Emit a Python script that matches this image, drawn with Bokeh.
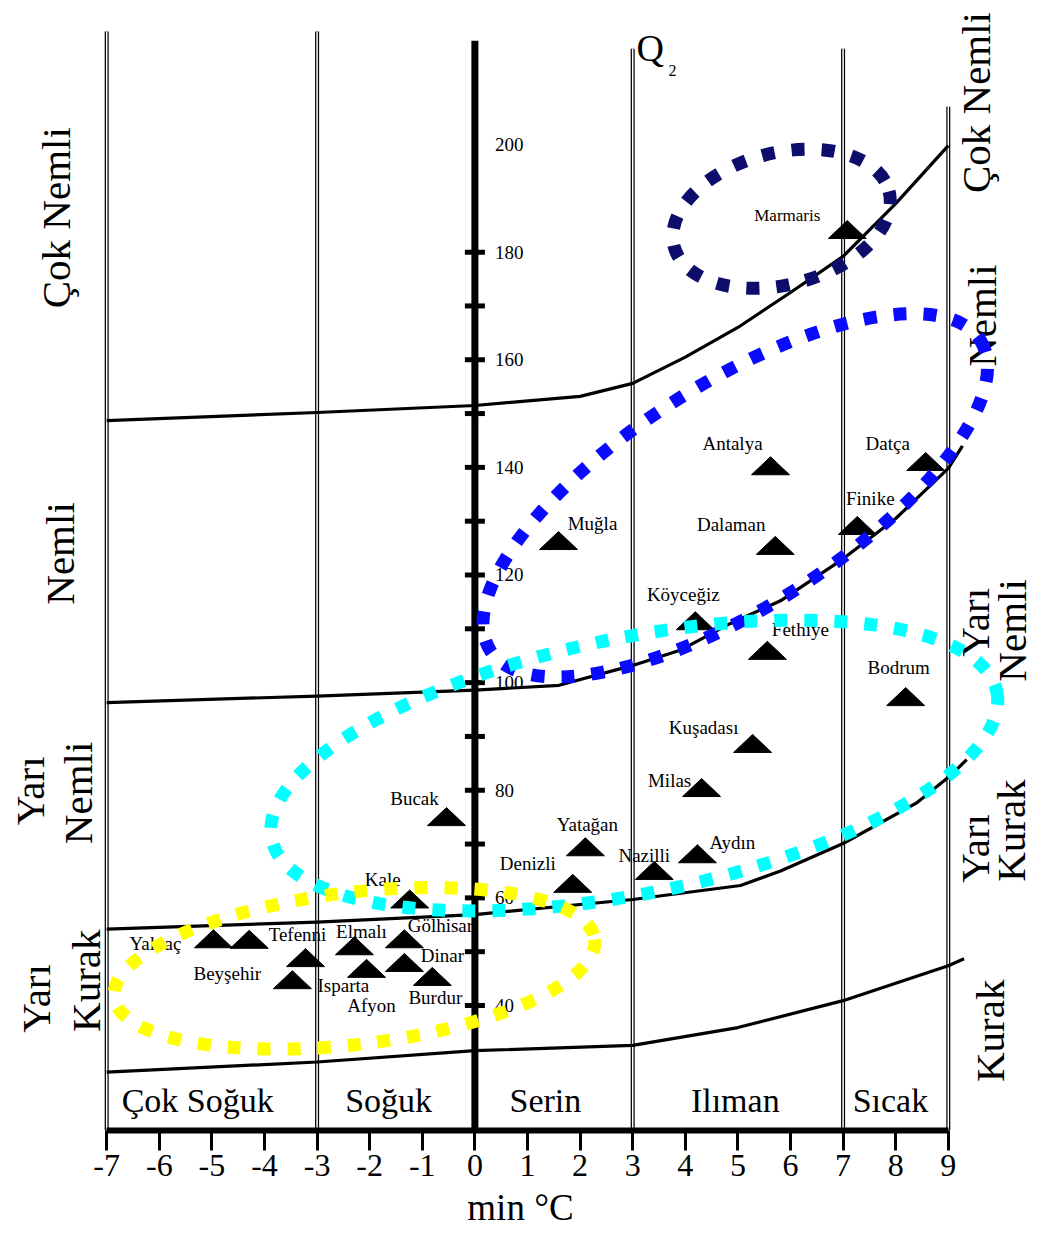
import numpy as np
from bokeh.plotting import figure
from bokeh.models import Range1d, FixedTicker, ColumnDataSource, CustomJSTickFormatter
from bokeh.embed import file_html
from bokeh.resources import INLINE
from bokeh.core.properties import value

# ---------------- data ----------------
# Emberger boundary curves (min °C vs Q2)
humid_x = [-7, -3, 0, 2, 3, 4, 5, 6, 7, 8, 9]
humid_q = [148.7, 150.2, 151.5, 153.2, 155.6, 160.5, 166.0, 172.5, 179.2, 189.0, 199.8]
subhumid_x = [-7, -3, 0, 1.6, 3, 3.9, 4.86, 5.81, 7, 8, 9, 9.27]
subhumid_q = [96.3, 97.5, 98.6, 99.5, 103.2, 106.0, 111.0, 115.2, 123.0, 130.5, 139.8, 144.0]
semiarid_x = [-7, -3, 0, 3, 5.05, 5.81, 7, 8.39, 9.06, 9.35]
semiarid_q = [54.2, 55.5, 56.9, 59.7, 62.3, 65.0, 70.1, 77.6, 82.9, 85.7]
arid_x = [-7, -3, 0, 3, 5, 7, 9, 9.3]
arid_q = [27.6, 29.5, 31.6, 32.6, 35.9, 40.9, 47.4, 48.7]

# stations
stations = ["Marmaris", "Antalya", "Datça", "Finike", "Dalaman", "Muğla", "Köyceğiz",
            "Fethiye", "Bodrum", "Kuşadası", "Milas", "Bucak", "Yatağan", "Aydın",
            "Nazilli", "Denizli", "Kale", "Yalvaç", "Beyşehir", "Tefenni", "Isparta",
            "Elmalı", "Gölhisar", "Dinar", "Afyon", "Burdur"]
station_m = [7.08, 5.62, 8.57, 7.27, 5.71, 1.59, 4.19, 5.56, 8.19, 5.28, 4.31, -0.54, 2.10,
             4.23, 3.41, 1.86, -1.24, -4.97, -4.29, -3.22, -3.47, -2.29, -1.34, -1.34, -2.06, -0.81]
station_q = [184.2, 140.3, 141.1, 129.2, 125.5, 126.4, 111.5, 106.0, 97.4, 88.7, 80.5, 75.1,
             69.5, 68.2, 65.1, 62.7, 59.8, 52.4, 52.3, 48.9, 44.8, 51.1, 52.4, 48.0, 46.9, 45.4]

# axis ticks
x_ticks = list(range(-7, 10))
q_minor_ticks = list(range(40, 190, 10))
q_tick_labels = [40, 60, 80, 100, 120, 140, 160, 180, 200]

# zone boundaries in temperature
temp_bounds = [-7, -3, 3, 7, 9]
temp_zone_names = ["Çok Soğuk", "Soğuk", "Serin", "Ilıman", "Sıcak"]
temp_zone_mid = [-5.27, -1.64, 1.34, 4.95, 7.90]

# highlighted groups (centres in data units)
group_m = [5.83, 4.95, 3.03, -2.29]
group_q = [186.2, 134.8, 84.6, 46.9]

# ---------------- styling / layout ----------------
W, H = 1040, 1234
FRAME_H = 1130
x0, x1 = -9.019, 10.753
y0, y1 = 16.77, 226.76
PX = W / (x1 - x0)
PY = FRAME_H / (y1 - y0)
SERIF = value("Liberation Serif")

p = figure(width=W, height=H, x_range=Range1d(x0, x1), y_range=Range1d(y0, y1),
           output_backend="svg", toolbar_location=None, y_axis_location=None,
           min_border_left=0, min_border_right=0, min_border_top=0, min_border_bottom=H - FRAME_H)
p.outline_line_color = None
p.xgrid.visible = False
p.ygrid.visible = False
p.background_fill_color = "white"

ax = p.xaxis[0]
ax.bounds = (-7, 9)
ax.ticker = FixedTicker(ticks=x_ticks)
ax.formatter = CustomJSTickFormatter(code="return tick.toString()")
ax.axis_line_width = 6
ax.axis_line_color = "black"
ax.major_tick_line_width = 3
ax.major_tick_in = 0
ax.major_tick_out = 20
ax.minor_tick_line_color = None
ax.major_label_text_font = "Liberation Serif"
ax.major_label_text_font_size = "32px"
ax.major_label_text_color = "black"
ax.major_label_standoff = 4
ax.axis_label = "min °C"
ax.axis_label_text_font = "Liberation Serif"
ax.axis_label_text_font_size = "37px"
ax.axis_label_text_font_style = "normal"
ax.axis_label_text_color = "black"
ax.axis_label_standoff = 8

# vertical double lines
v_tops = [221.0, 221.0, 217.8, 217.8, 207.0]
p.segment(x0=temp_bounds, y0=[y0] * 5, x1=temp_bounds, y1=v_tops, line_color="black", line_width=4)
p.segment(x0=temp_bounds, y0=[y0] * 5, x1=temp_bounds, y1=v_tops, line_color="white", line_width=1.5)

# boundary curves
for cx, cq in [(humid_x, humid_q), (subhumid_x, subhumid_q), (semiarid_x, semiarid_q), (arid_x, arid_q)]:
    p.line(cx, cq, line_color="black", line_width=3.2, line_join="round")

# central Q2 axis
p.segment(x0=[0], y0=[y0], x1=[0], y1=[219.3], line_color="black", line_width=7)
tick_half = 10 / PX
p.segment(x0=[-tick_half] * len(q_minor_ticks), y0=q_minor_ticks,
          x1=[tick_half] * len(q_minor_ticks), y1=q_minor_ticks, line_color="black", line_width=5)
p.text(x=[20 / PX] * len(q_tick_labels), y=q_tick_labels, text=[str(v) for v in q_tick_labels],
       text_font=SERIF, text_font_size="19px", text_align="left", text_baseline="middle",
       text_color="black")

# Q2 label
p.text(x=[3.07], y=[218.0], text=["Q"], text_font=SERIF, text_font_size="38px",
       text_align="left", text_baseline="middle", text_color="black")
p.text(x=[3.68], y=[213.8], text=["2"], text_font=SERIF, text_font_size="16px",
       text_align="left", text_baseline="middle", text_color="black")

# temperature zone labels
p.text(x=temp_zone_mid, y=[22.3] * 5, text=temp_zone_names, text_font=SERIF,
       text_font_size="34px", text_align="center", text_baseline="middle", text_color="black")

# humidity zone labels (rotated)
left_lbl = ["Çok Nemli", "Nemli", "Yarı", "Nemli", "Yarı", "Kurak"]
left_x = [-7.97, -7.88, -8.45, -7.54, -8.35, -7.40]
left_y = [186.4, 124.0, 79.9, 79.5, 41.3, 44.6]
right_lbl = ["Çok Nemli", "Nemli", "Yarı", "Nemli", "Yarı", "Kurak", "Kurak"]
right_x = [9.52, 9.65, 9.50, 10.22, 9.50, 10.20, 9.80]
right_y = [207.8, 168.2, 111.2, 109.7, 69.2, 72.5, 35.3]
p.text(x=left_x + right_x, y=left_y + right_y, text=left_lbl + right_lbl, angle=np.pi / 2,
       text_font=SERIF, text_font_size="41px", text_align="center", text_baseline="middle",
       text_color="black")

# station triangles
hw = 19 / PX
th = 18 / PY
tri_xs = [[m - hw, m + hw, m] for m in station_m]
tri_ys = [[q - th / 2, q - th / 2, q + th / 2] for q in station_q]
p.patches(tri_xs, tri_ys, fill_color="black", line_color="black", line_width=1)

# station labels (pixel offsets from the triangle centre, screen down = +)
lbl_dx = [-60, -38, -38, 13, -44, 34, -12, 33, -7, -49, -32, -32, 2, 35, -10, -45, -27, -58,
          -22, -8, 51, 7, 36, 38, 5, 3]
lbl_dy = [-14, -22, -18, -27, -21, -17, -26, -21, -29, -16, -7, -18, -22, -11, -15, -20, -19, 5,
          34, -23, 6, -14, -13, -7, 37, 21]
lbl_size = ["17px"] + ["19px"] * (len(stations) - 1)
src = ColumnDataSource(dict(
    x=[m + dx / PX for m, dx in zip(station_m, lbl_dx)],
    y=[q - dy / PY for q, dy in zip(station_q, lbl_dy)],
    t=stations, s=lbl_size))
p.text(x="x", y="y", text="t", text_font_size="s", source=src, text_font=SERIF,
       text_align="center", text_baseline="middle", text_color="black")

# dotted highlight ellipses
g_w = [222, 580, 740, 484]
g_h = [132, 224, 256, 152]
g_a = [0.25, 0.564, 0.20, 0.12]
g_c = ["#0d0d6b", "#0a0aff", "#00ffff", "#ffff00"]
for i in range(4):
    p.ellipse(x=[group_m[i]], y=[group_q[i]], width=[g_w[i]], height=[g_h[i]], angle=[g_a[i]],
              width_units="screen", height_units="screen", fill_color=None,
              line_color=g_c[i], line_width=13, line_dash="13 17")

open("out.html", "w").write(file_html(p, INLINE))
